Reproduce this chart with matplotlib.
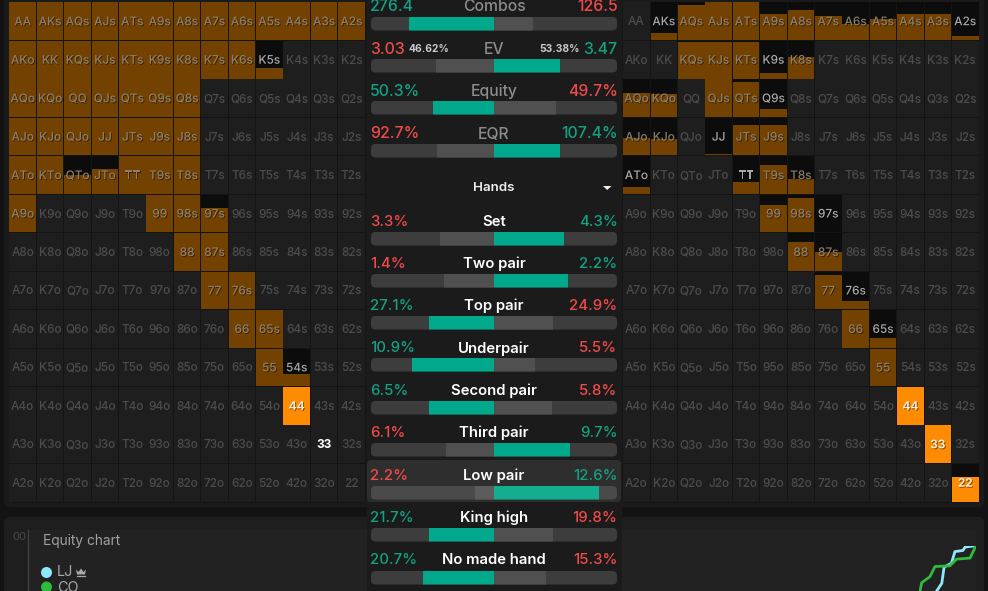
import numpy as np
import matplotlib
matplotlib.use("Agg")
import matplotlib.pyplot as plt
from matplotlib.patches import FancyBboxPatch, Rectangle, Circle
import matplotlib.patheffects as pe

plt.rcParams['font.family'] = ['Inter', 'DejaVu Sans']

RANKS = list("AKQJT98765432")

LEFT_FILL = [
    [1,1,1,1,1,1,1,1,1,1,1,1,1],
    [1,1,1,1,1,1,1,1,1,.27,0,0,0],
    [1,1,1,1,1,1,1,0,0,0,0,0,0],
    [1,1,1,1,1,1,1,0,0,0,0,0,0],
    [1,1,.5,.67,1,1,1,0,0,0,0,0,0],
    [1,0,0,0,0,1,1,.66,0,0,0,0,0],
    [0,0,0,0,0,0,1,1,0,0,0,0,0],
    [0,0,0,0,0,0,0,1,1,0,0,0,0],
    [0,0,0,0,0,0,0,0,1,1,0,0,0],
    [0,0,0,0,0,0,0,0,0,1,.32,0,0],
    [0,0,0,0,0,0,0,0,0,0,1,0,0],
    [0,0,0,0,0,0,0,0,0,0,0,0,0],
    [0,0,0,0,0,0,0,0,0,0,0,0,0],
]
RIGHT_FILL = [
    [0,.2,.92,1,1,.7,.8,.63,.42,.55,.68,.7,.1],
    [0,0,.97,.97,.97,.14,.56,0,0,0,0,0,0],
    [.65,.6,0,1,.94,.2,0,0,0,0,0,0,0],
    [.45,.43,0,.03,.8,.82,0,0,0,0,0,0,0],
    [.18,0,0,0,.32,.77,.4,0,0,0,0,0,0],
    [0,0,0,0,0,.72,.91,.005,0,0,0,0,0],
    [0,0,0,0,0,0,.77,.5,0,0,0,0,0],
    [0,0,0,0,0,0,0,.91,.21,0,0,0,0],
    [0,0,0,0,0,0,0,0,1,.25,0,0,0],
    [0,0,0,0,0,0,0,0,0,1,0,0,0],
    [0,0,0,0,0,0,0,0,0,0,1,0,0],
    [0,0,0,0,0,0,0,0,0,0,0,1,0],
    [0,0,0,0,0,0,0,0,0,0,0,0,.65],
]
LEFT_BRIGHT = ["44"]
RIGHT_BRIGHT = ["44", "33", "22"]
LEFT_WHITE = ["33"]

STAT_NAMES = ["Combos","EV","Equity","EQR"]
STAT_LEFT = ["276.4","3.03","50.3%","92.7%"]
STAT_RIGHT = ["126.5","3.47","49.7%","107.4%"]
STAT_LEFT_WIN = [True,False,True,False]
STAT_LBAR = [0.69,0.47,0.50,0.46]
STAT_RBAR = [0.315,0.54,0.50,0.54]

HAND_NAMES = ["Set","Two pair","Top pair","Underpair","Second pair","Third pair","Low pair","King high","No made hand"]
HAND_LEFT = ["3.3%","1.4%","27.1%","10.9%","6.5%","6.1%","2.2%","21.7%","20.7%"]
HAND_RIGHT = ["4.3%","2.2%","24.9%","5.5%","5.8%","9.7%","12.6%","19.8%","15.3%"]
HAND_LEFT_WIN = [False,False,True,True,True,False,False,True,True]
HAND_LBAR = [0.44,0.41,0.53,0.67,0.53,0.39,0.155,0.53,0.58]
HAND_RBAR = [0.57,0.60,0.48,0.33,0.47,0.62,0.855,0.48,0.42]

# equity chart series: hand progress (x) vs equity (y)
EQ_X_LJ = [31,40,44,57,63,77,81,100]
EQ_Y_LJ = [0,17,52.7,61.5,87,89.5,97,100]
EQ_X_CO = [1.8,4.7,19.3,28,54,66,89.5,100]
EQ_Y_CO = [0,18.4,31.8,54,55.6,70.4,72.7,100]

BG = '#131313'
CELL = '#1e1e1e'
LINE = '#141414'
DIM = '#734100'
BRIGHT = '#ff8c00'
BLACK = '#0c0c0c'
TEAL = '#00a98b'
TEALT = '#12a184'
RED = '#f04a4a'
TRACK = '#3d3d3d'
LIGHT = '#505050'

fig = plt.figure(figsize=(9.88, 5.91), dpi=100, facecolor=BG)
ax = fig.add_axes([0, 0, 1, 1])
ax.set_xlim(0, 988)
ax.set_ylim(591, 0)
ax.axis('off')

def rrect(x0, y0, x1, y1, r, fc, ec='none', z=1, lw=0):
    p = FancyBboxPatch((x0 + r, y0 + r), x1 - x0 - 2 * r, y1 - y0 - 2 * r,
                       boxstyle=f"round,pad={r},rounding_size={r}", fc=fc, ec=ec, lw=lw, zorder=z)
    ax.add_patch(p)
    return p

# panels
rrect(4, -10, 984, 507, 6, '#1a1a1a', z=1)
rrect(4, 517, 984, 620, 6, '#1e1e1e', z=1)
rrect(27, 530, 976, 620, 4, '#222222', z=1)
rrect(9, 2, 366, 503, 6, LINE, z=2)
rrect(622.5, 2, 979, 503, 6, LINE, z=2)

def hand(r, c):
    if r == c:
        return RANKS[r] * 2
    if c > r:
        return RANKS[r] + RANKS[c] + 's'
    return RANKS[c] + RANKS[r] + 'o'

def draw_grid(x0, fills, bright, white):
    step_x = 27.4
    step_y = 38.46
    y0 = 2.0
    for r in range(13):
        for c in range(13):
            f = fills[r][c]
            h = hand(r, c)
            xl = x0 + c * step_x + 0.4
            yt = y0 + r * step_y + 0.4
            w = step_x - 0.8
            ht = step_y - 0.8
            bg = BLACK if 0 < f < 1 else CELL
            ax.bar(xl, ht, width=w, bottom=yt, align='edge', color=bg, lw=0, zorder=3)
            if f > 0:
                col = BRIGHT if h in bright else DIM
                ax.bar(xl, ht * f, width=w, bottom=yt + ht * (1 - f), align='edge', color=col, lw=0, zorder=4)
            tc = '#4c4c4c'
            weight = 500
            if h in bright or h in white:
                tc = '#ffffff' if h in white else '#f2ead8'
                weight = 700
            elif f >= 0.35:
                tc = '#8c7f6c'
            elif f > 0:
                tc = '#aaaaaa'
            t = ax.text(xl + w / 2, yt + ht / 2 + 1.0, h, ha='center', va='center', fontsize=8.5,
                        color=tc, weight=weight, zorder=5)
            if f > 0:
                t.set_path_effects([pe.withSimplePatchShadow(offset=(0.7, -0.7), shadow_rgbFace='#000000', alpha=0.45)])

draw_grid(9.0, LEFT_FILL, LEFT_BRIGHT, LEFT_WHITE)
draw_grid(622.7, RIGHT_FILL, RIGHT_BRIGHT, [])

# center panel
ax.add_patch(Rectangle((366.5, 0), 255.5, 591, fc='#1b1b1b', lw=0, zorder=6))

BAR_L, BAR_R, BAR_C = 371.0, 617.0, 494.0

def stat_bar(ytop, height, lfrac, rfrac, lwin, hi=False):
    half = (BAR_R - BAR_L) / 2
    track = rrect(BAR_L, ytop, BAR_R, ytop + height, 4.5, '#4a4a4a' if hi else TRACK, z=8)
    yc = ytop + height / 2
    lc = TEAL if lwin else LIGHT
    rc = LIGHT if lwin else TEAL
    if hi:
        lc = '#13ad90' if lwin else '#5c5c5c'
        rc = '#5c5c5c' if lwin else '#13ad90'
    a = ax.barh(yc, lfrac * half, left=BAR_C - lfrac * half, height=height, color=lc, lw=0, zorder=9)
    b = ax.barh(yc, rfrac * half, left=BAR_C, height=height, color=rc, lw=0, zorder=9)
    for bars in (a, b):
        for p in bars:
            p.set_clip_path(track)

STAT_TOPS = [17, 59, 101, 144]
STAT_TXT = [6.5, 49, 91.5, 134]
for i, n in enumerate(STAT_NAMES):
    stat_bar(STAT_TOPS[i], 13.5, STAT_LBAR[i], STAT_RBAR[i], STAT_LEFT_WIN[i])
    ty = STAT_TXT[i]
    ax.text(BAR_C, ty, n, ha='center', va='center', fontsize=11.3, color='#8c8c8c', zorder=10, weight=500)
    ax.text(BAR_L - 1, ty, STAT_LEFT[i], ha='left', va='center', fontsize=11.4,
            color=TEALT if STAT_LEFT_WIN[i] else RED, zorder=10, weight=500)
    ax.text(BAR_R + 0.5, ty, STAT_RIGHT[i], ha='right', va='center', fontsize=11.4,
            color=RED if STAT_LEFT_WIN[i] else TEALT, zorder=10, weight=500)
ax.text(408, 48.5, "46.62%", ha='left', va='center', fontsize=7.4, color='#c9c9c9', weight=700, zorder=10)
ax.text(580, 48.5, "53.38%", ha='right', va='center', fontsize=7.4, color='#c9c9c9', weight=700, zorder=10)

ax.text(BAR_C, 188, "Hands", ha='center', va='center', fontsize=9.6, color='#eeeeee', weight=600, zorder=10)
ax.fill([603, 611.5, 607.2], [186, 186, 190], color='#eeeeee', lw=0, zorder=10)

HAND_TOPS = [232, 274, 316, 358, 401, 443, 486, 528, 571]
HAND_TXT = [222, 264, 306, 348.5, 391, 433, 476, 518, 560]
for i, n in enumerate(HAND_NAMES):
    hi = n == "Low pair"
    if hi:
        rrect(367, 460, 621, 502, 4, '#2e2e2e', z=7)
    stat_bar(HAND_TOPS[i], 13.5, HAND_LBAR[i], HAND_RBAR[i], HAND_LEFT_WIN[i], hi)
    ty = HAND_TXT[i]
    ax.text(BAR_C, ty, n, ha='center', va='center', fontsize=10.7, color='#ffffff', zorder=10, weight=600)
    ax.text(BAR_L - 1, ty, HAND_LEFT[i], ha='left', va='center', fontsize=10.8,
            color=TEALT if HAND_LEFT_WIN[i] else RED, zorder=10, weight=500)
    ax.text(BAR_R + 0.5, ty, HAND_RIGHT[i], ha='right', va='center', fontsize=10.8,
            color=RED if HAND_LEFT_WIN[i] else TEALT, zorder=10, weight=500)

# lower section
ax.text(12, 536.5, "00", ha='left', va='center', fontsize=8, color='#4a4a4a', zorder=3)
ax.plot([27.5, 27.5], [530, 591], color='#444444', lw=0.8, zorder=3)
ax.text(43, 541, "Equity chart", ha='left', va='center', fontsize=9.9, color='#a0a0a0', zorder=3)
ax.add_patch(Circle((46.5, 572.5), 5.5, fc='#8ee8fa', lw=0, zorder=3))
ax.add_patch(Circle((46.5, 587), 5.5, fc='#2dbb3c', lw=0, zorder=3))
ax.text(57, 572.5, "LJ", ha='left', va='center', fontsize=10.4, color='#a8a8a8', zorder=3)
ax.text(57, 587.5, "CO", ha='left', va='center', fontsize=10.4, color='#a8a8a8', zorder=3)
ax.fill([76, 78.5, 81, 83.5, 86, 85, 77], [569.5, 572, 568.5, 572, 569.5, 574.5, 574.5], color='#a8a8a8', lw=0, zorder=3)
ax.plot([77, 85], [576, 576], color='#a8a8a8', lw=0.9, zorder=3)

eq = fig.add_axes([919 / 988, 0, (976 - 919) / 988, (591 - 545.7) / 591])
eq.set_xlim(0, 100)
eq.set_ylim(0, 100)
eq.axis('off')
eq.patch.set_alpha(0)
eq.plot(EQ_X_LJ, EQ_Y_LJ, color='#8ee8fa', lw=2.0, solid_joinstyle='round')
eq.plot(EQ_X_CO, EQ_Y_CO, color='#2dbb3c', lw=2.0, solid_joinstyle='round')

fig.savefig('out.png', dpi=100, facecolor=BG)
